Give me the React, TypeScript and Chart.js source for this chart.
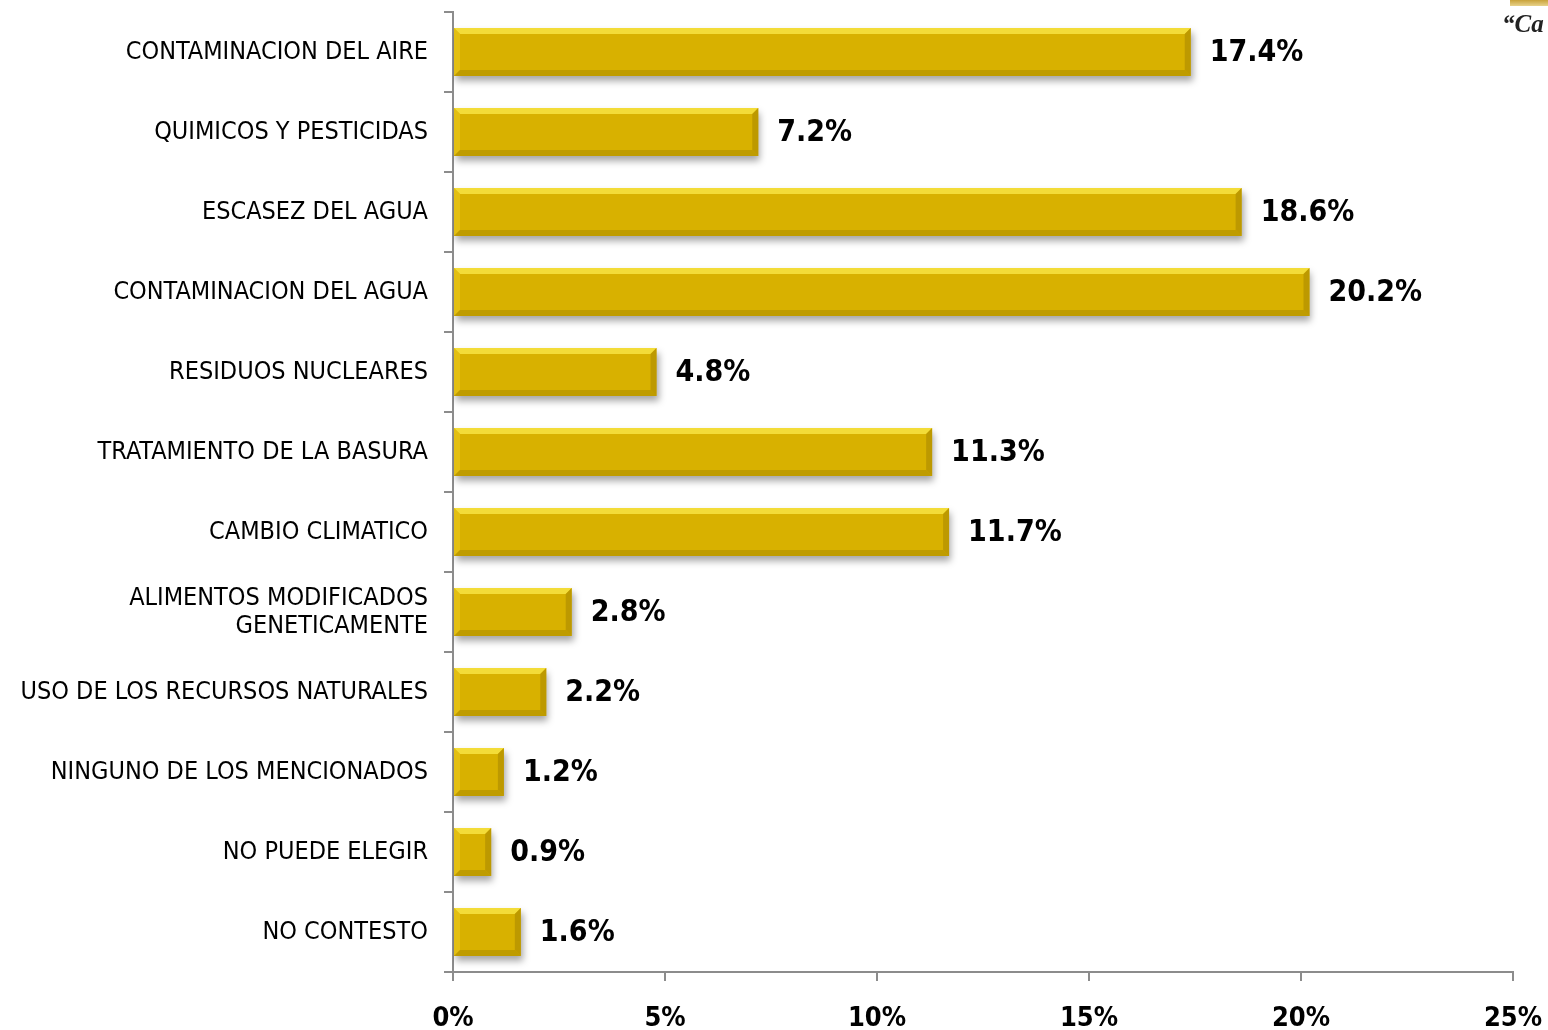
import React, { useEffect, useRef } from "react";
import { Chart, registerables } from "chart.js";

Chart.register(...registerables);

const categories: (string | string[])[] = [
  "CONTAMINACION DEL AIRE",
  "QUIMICOS Y PESTICIDAS",
  "ESCASEZ DEL AGUA",
  "CONTAMINACION DEL AGUA",
  "RESIDUOS NUCLEARES",
  "TRATAMIENTO DE LA BASURA",
  "CAMBIO CLIMATICO",
  ["ALIMENTOS MODIFICADOS", "GENETICAMENTE"],
  "USO DE LOS RECURSOS NATURALES",
  "NINGUNO DE LOS MENCIONADOS",
  "NO PUEDE ELEGIR",
  "NO CONTESTO",
];
const values = [17.4, 7.2, 18.6, 20.2, 4.8, 11.3, 11.7, 2.8, 2.2, 1.2, 0.9, 1.6];
const xMax = 25;
const xStep = 5;

const FONT = "Tahoma, 'DejaVu Sans Condensed', 'DejaVu Sans', sans-serif";

const bevelPlugin = {
  id: "bevel",
  beforeDatasetDraw(chart: any) {
    const ctx = chart.ctx;
    ctx.save();
    ctx.shadowColor = "rgba(0,0,0,0.35)";
    ctx.shadowBlur = 7;
    ctx.shadowOffsetX = 2;
    ctx.shadowOffsetY = 5;
  },
  afterDatasetDraw(chart: any) {
    const ctx = chart.ctx;
    ctx.restore();
    const meta = chart.getDatasetMeta(0);
    meta.data.forEach((bar: any) => {
      const { x, y, base, height } = bar.getProps(["x", "y", "base", "height"], true);
      const left = base;
      const right = x;
      const top = y - height / 2;
      const bottom = y + height / 2;
      const b = Math.min(6, (right - left) / 3);
      ctx.save();
      ctx.fillStyle = "rgba(255,238,80,0.7)";
      ctx.beginPath();
      ctx.moveTo(left, top);
      ctx.lineTo(right, top);
      ctx.lineTo(right - b, top + b);
      ctx.lineTo(left + b, top + b);
      ctx.closePath();
      ctx.fill();
      ctx.fillStyle = "rgba(235,200,30,0.6)";
      ctx.beginPath();
      ctx.moveTo(left, top);
      ctx.lineTo(left + b, top + b);
      ctx.lineTo(left + b, bottom - b);
      ctx.lineTo(left, bottom);
      ctx.closePath();
      ctx.fill();
      ctx.fillStyle = "rgba(180,145,0,0.75)";
      ctx.beginPath();
      ctx.moveTo(right, top);
      ctx.lineTo(right, bottom);
      ctx.lineTo(right - b, bottom - b);
      ctx.lineTo(right - b, top + b);
      ctx.closePath();
      ctx.fill();
      ctx.fillStyle = "rgba(175,142,0,0.6)";
      ctx.beginPath();
      ctx.moveTo(left, bottom);
      ctx.lineTo(right, bottom);
      ctx.lineTo(right - b, bottom - b);
      ctx.lineTo(left + b, bottom - b);
      ctx.closePath();
      ctx.fill();
      ctx.restore();
    });
  },
};

const labelPlugin = {
  id: "valueLabels",
  afterDatasetsDraw(chart: any) {
    const ctx = chart.ctx;
    const meta = chart.getDatasetMeta(0);
    ctx.save();
    ctx.font = `bold 30px ${FONT}`;
    ctx.fillStyle = "#000";
    ctx.textAlign = "left";
    ctx.textBaseline = "middle";
    meta.data.forEach((bar: any, i: number) => {
      const v = values[i];
      ctx.fillText(v.toFixed(1) + "%", bar.x + 19, bar.y + 1);
    });
    ctx.restore();
  },
};

export default function App() {
  const ref = useRef<HTMLCanvasElement>(null);
  useEffect(() => {
    if (!ref.current) return;
    const chart = new Chart(ref.current, {
      type: "bar",
      data: {
        labels: categories,
        datasets: [
          {
            data: values,
            backgroundColor: "#D8B100",
            borderWidth: 0,
            categoryPercentage: 0.6,
            barPercentage: 1,
          },
        ],
      },
      options: {
        indexAxis: "y",
        animation: false,
        responsive: false,
        maintainAspectRatio: false,
        layout: { padding: { top: 12, right: 35, left: 0, bottom: 0 } },
        plugins: {
          legend: { display: false },
          tooltip: { enabled: false },
        },
        scales: {
          x: {
            min: 0,
            max: xMax,
            ticks: {
              stepSize: xStep,
              color: "#000",
              font: { family: FONT, size: 27, weight: "bold" },
              padding: 22,
              callback: (v: any) => v + "%",
            },
            grid: {
              display: true,
              drawOnChartArea: false,
              drawTicks: true,
              tickLength: 9,
              color: "#8c8c8c",
              lineWidth: 2,
            },
            border: { display: true, color: "#8c8c8c", width: 2 },
            afterFit: (s: any) => {
              s.height = 58;
              s.paddingLeft = 0;
              s.paddingRight = 0;
            },
          },
          y: {
            offset: true,
            ticks: {
              color: "#000",
              font: { family: FONT, size: 25, lineHeight: 1.12 },
              padding: 16,
            },
            grid: {
              display: true,
              offset: true,
              drawOnChartArea: false,
              drawTicks: true,
              tickLength: 9,
              color: "#8c8c8c",
              lineWidth: 2,
            },
            border: { display: true, color: "#8c8c8c", width: 2 },
            afterFit: (s: any) => {
              s.width = 453;
              s.paddingTop = 0;
              s.paddingBottom = 0;
            },
          },
        },
      },
      plugins: [bevelPlugin, labelPlugin],
    });
    return () => chart.destroy();
  }, []);
  return (
    <div style={{ position: "fixed", left: 0, top: 0, width: 1548, height: 1030, background: "#fff", overflow: "hidden" }}>
      <canvas ref={ref} width={1548} height={1030} style={{ width: 1548, height: 1030, display: "block" }} />
      <div style={{ position: "absolute", left: 1510, top: 0, width: 40, height: 6, background: "linear-gradient(#c9a23a, #e8d28a)" }} />
      <div
        style={{
          position: "absolute",
          left: 1502,
          top: 10,
          fontFamily: "'Liberation Serif', 'DejaVu Serif', serif",
          fontStyle: "italic",
          fontWeight: "bold",
          fontSize: 25,
          color: "#222",
          whiteSpace: "nowrap",
        }}
      >
        “Ca
      </div>
    </div>
  );
}
